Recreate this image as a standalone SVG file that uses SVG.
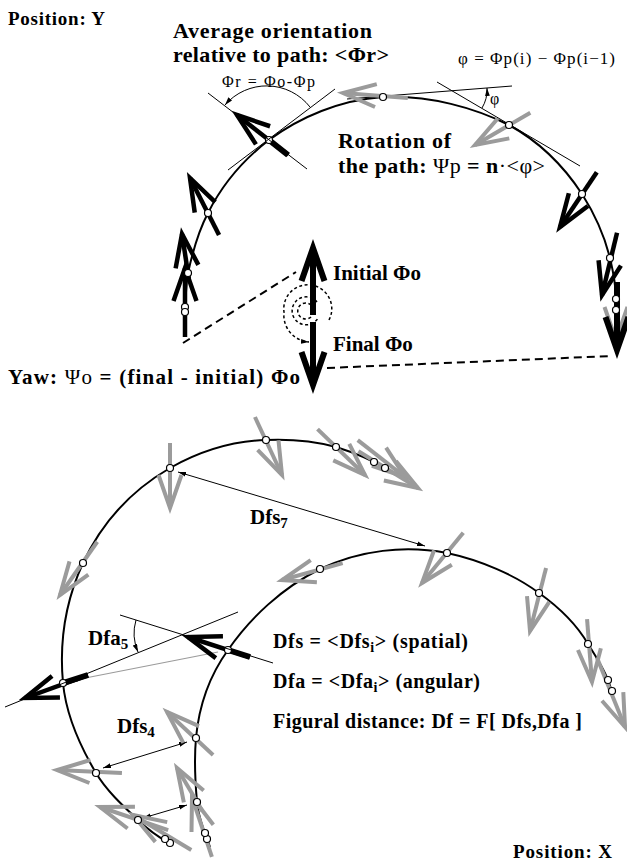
<svg xmlns="http://www.w3.org/2000/svg" width="627" height="861" viewBox="0 0 627 861">
<style>
.blk{stroke:#000;stroke-width:4.5;fill:none;stroke-miterlimit:6}
.big{stroke:#000;stroke-width:6;fill:none;stroke-miterlimit:6}
.gry{stroke:#9b9b9b;stroke-width:4;fill:none;stroke-miterlimit:6}
.thin{stroke:#000;stroke-width:1;fill:none}
.crv{stroke:#000;stroke-width:2;fill:none}
.dash{stroke:#000;stroke-width:2;stroke-dasharray:8 5;fill:none}
.spir{stroke:#000;stroke-width:1.5;stroke-dasharray:3 2.5;fill:none}
.pt{fill:#fff;stroke:#000;stroke-width:1.2}
.b{font-family:"Liberation Serif",serif;font-weight:bold;fill:#000}
.r{font-weight:normal}
</style>
<defs>
<marker id="ah" viewBox="0 0 10 6" refX="10" refY="3" markerWidth="8" markerHeight="5" orient="auto-start-reverse" markerUnits="userSpaceOnUse"><path d="M0,0 L10,3 L0,6 z" fill="#000"/></marker>
<marker id="ahg" viewBox="0 0 10 6" refX="10" refY="3" markerWidth="8" markerHeight="5" orient="auto-start-reverse" markerUnits="userSpaceOnUse"><path d="M0,0 L10,3 L0,6 z" fill="#9b9b9b"/></marker>
<path id="hd" d="M-33,-11.5 L0,0 L-33,11.5"/>
</defs>

<g id="connectors">
<path class="crv" d="M185,314 L185,308 C186,295 186,285 188,273 C193,250 199,230 208,213 C222,185 243,160 269,140 C300,117 340,100 383,97 C430,95 475,108 509,125 C540,142 565,168 582,194 C596,216 605,238 610,258 C614,275 616,290 616,300 L616,312"/>
<path class="crv" d="M172,845 C160,838 148,830 138,820 C122,805 106,790 96,773 C80,746 66,715 63,683 C59,640 66,600 83,563 C103,520 132,490 170,468 C200,451 232,441 266,440 C290,439 314,441 336,447 C352,452 370,459 385,468 L390,471"/>
<path class="crv" d="M210,847 C207,838 198,818 197,802 C195,780 194,760 196,738 C199,705 210,675 228,650 C250,618 282,588 320,569 C360,550 405,545 447,553 C480,560 515,575 539,593 C560,608 577,625 588,644 C597,658 605,672 608,680 L613,694"/>
<line class="thin" x1="347" y1="99" x2="512" y2="86"/>
<line class="thin" x1="437" y1="82" x2="580" y2="166"/>
<path class="thin" d="M482,108 A35,35 0 0,0 487,88" marker-end="url(#ah)"/>
<path class="thin" d="M310,107 A55,55 0 0,0 225,105" marker-end="url(#ah)"/>
<line class="dash" x1="183" y1="343" x2="296" y2="272"/>
<line class="dash" x1="327" y1="368" x2="612" y2="356"/>
<path class="spir" d="M311,305 A8,8 0 1,0 312,316"/>
<path class="spir" d="M317,302 A14,14 0 1,0 317.5,319"/>
<path class="spir" d="M329,320 A24,24 0 1,0 284,312 A27,27 0 0,0 309,342" marker-end="url(#ah)"/>
<line class="thin" x1="178" y1="472" x2="425" y2="546" marker-start="url(#ah)" marker-end="url(#ah)"/>
<line class="thin" x1="103" y1="768" x2="187" y2="742" marker-start="url(#ah)" marker-end="url(#ah)"/>
<line class="thin" x1="143" y1="818" x2="187" y2="805" marker-start="url(#ah)" marker-end="url(#ah)"/>
<line x1="218" y1="652" x2="70" y2="681" stroke="#9b9b9b" stroke-width="1.2" marker-end="url(#ahg)"/>
<path class="thin" d="M136,620 A47,47 0 0,0 138,652" marker-end="url(#ah)"/>
</g>

<g id="grey-arrows">
<g class="gry" transform="translate(343,93) rotate(184.4)"><use href="#hd"/><line x1="-65" y1="0" x2="0" y2="0"/></g>
<g class="gry" transform="translate(475,145) rotate(149.8)"><use href="#hd"/><line x1="-64" y1="0" x2="0" y2="0"/></g>
<g class="gry" transform="translate(616,340) rotate(90)"><use href="#hd"/><line x1="-30" y1="0" x2="0" y2="0"/></g>
<g class="gry" transform="translate(170,508) rotate(90)"><use href="#hd"/><line x1="-65" y1="0" x2="0" y2="0"/></g>
<g class="gry" transform="translate(282,475) rotate(65)"><use href="#hd"/><line x1="-64" y1="0" x2="0" y2="0"/></g>
<g class="gry" transform="translate(365,475) rotate(44)"><use href="#hd"/><line x1="-66" y1="0" x2="0" y2="0"/></g>
<g class="gry" transform="translate(405,477) rotate(38)"><use href="#hd"/><line x1="-60" y1="0" x2="0" y2="0"/></g>
<g class="gry" transform="translate(418,488) rotate(31.6)"><use href="#hd"/><line x1="-70" y1="0" x2="0" y2="0"/></g>
<g class="gry" transform="translate(60,595) rotate(125)"><use href="#hd"/><line x1="-65" y1="0" x2="0" y2="0"/></g>
<g class="gry" transform="translate(57,770) rotate(182.6)"><use href="#hd"/><line x1="-65" y1="0" x2="0" y2="0"/></g>
<g class="gry" transform="translate(100,807) rotate(198.7)"><use href="#hd"/><line x1="-72" y1="0" x2="0" y2="0"/></g>
<g class="gry" transform="translate(133,815) rotate(211)"><use href="#hd"/><line x1="-68" y1="0" x2="0" y2="0"/></g>
<g class="gry" transform="translate(167,712) rotate(-137)"><use href="#hd"/><line x1="-63" y1="0" x2="0" y2="0"/></g>
<g class="gry" transform="translate(177,768) rotate(-120.5)"><use href="#hd"/><line x1="-50" y1="0" x2="0" y2="0"/></g>
<g class="gry" transform="translate(192,797) rotate(-108.4)"><use href="#hd"/><line x1="-63" y1="0" x2="0" y2="0"/></g>
<g class="gry" transform="translate(282,580) rotate(164.4)"><use href="#hd"/><line x1="-63" y1="0" x2="0" y2="0"/></g>
<g class="gry" transform="translate(422,583) rotate(129.4)"><use href="#hd"/><line x1="-65" y1="0" x2="0" y2="0"/></g>
<g class="gry" transform="translate(530,631) rotate(104.3)"><use href="#hd"/><line x1="-65" y1="0" x2="0" y2="0"/></g>
<g class="gry" transform="translate(592,682) rotate(85.5)"><use href="#hd"/><line x1="-63" y1="0" x2="0" y2="0"/></g>
<g class="gry" transform="translate(625,727) rotate(68)"><use href="#hd"/><line x1="-75" y1="0" x2="0" y2="0"/></g>
</g>

<g id="black-arrows">
<g class="blk" transform="translate(185,268) rotate(-90)"><use href="#hd"/><line x1="-69" y1="0" x2="0" y2="0"/></g>
<g class="blk" transform="translate(182,234) rotate(-98.7)"><use href="#hd"/><line x1="-45" y1="0" x2="0" y2="0"/></g>
<g class="blk" transform="translate(190,178) rotate(-117)"><use href="#hd"/><line x1="-64" y1="0" x2="0" y2="0"/></g>
<g class="blk" transform="translate(237,115) rotate(-142)"><use href="#hd"/><line x1="-65" y1="0" x2="0" y2="0"/></g>
<line x1="269" y1="140" x2="288" y2="155" stroke="#000" stroke-width="6"/>
<g class="blk" transform="translate(560,227) rotate(123.9)"><use href="#hd"/><line x1="-66" y1="0" x2="0" y2="0"/></g>
<g class="blk" transform="translate(602,295) rotate(103.6)"><use href="#hd"/><line x1="-64" y1="0" x2="0" y2="0"/></g>
<g class="big" transform="translate(617,350) rotate(90)"><use href="#hd"/><line x1="-68" y1="0" x2="0" y2="0"/></g>
<g id="initial" class="big" transform="translate(313,248) rotate(-90)"><use href="#hd"/><line x1="-67" y1="0" x2="0" y2="0"/></g>
<g id="final" class="big" transform="translate(313,385) rotate(90)"><use href="#hd"/><line x1="-63" y1="0" x2="0" y2="0"/></g>
<g class="blk" transform="translate(25,698) rotate(160)"><use href="#hd"/><line x1="-67" y1="0" x2="0" y2="0"/></g>
<line x1="63" y1="683" x2="88" y2="675" stroke="#000" stroke-width="6"/>
<g class="blk" transform="translate(188,637) rotate(198)"><use href="#hd"/><line x1="-65" y1="0" x2="0" y2="0"/></g>
<line x1="228" y1="650" x2="250" y2="657" stroke="#000" stroke-width="6"/>
</g>

<g id="points">
<circle class="pt" cx="185" cy="307" r="3.5"/><circle class="pt" cx="185" cy="312" r="3.5"/>
<circle class="pt" cx="188" cy="273" r="3.5"/><circle class="pt" cx="208" cy="213" r="3.5"/>
<circle class="pt" cx="269" cy="140" r="3.5"/><circle class="pt" cx="383" cy="97" r="3.5"/>
<circle class="pt" cx="509" cy="125" r="3.5"/><circle class="pt" cx="582" cy="194" r="3.5"/>
<circle class="pt" cx="610" cy="258" r="3.5"/><circle class="pt" cx="616" cy="299" r="3.5"/>
<circle class="pt" cx="616" cy="310" r="3.5"/>
<circle class="pt" cx="170" cy="843" r="3.5"/><circle class="pt" cx="165" cy="839" r="3.5"/>
<circle class="pt" cx="138" cy="820" r="3.5"/><circle class="pt" cx="96" cy="773" r="3.5"/>
<circle class="pt" cx="63" cy="683" r="3.5"/><circle class="pt" cx="83" cy="563" r="3.5"/>
<circle class="pt" cx="170" cy="468" r="3.5"/><circle class="pt" cx="266" cy="440" r="3.5"/>
<circle class="pt" cx="336" cy="447" r="3.5"/><circle class="pt" cx="374" cy="462" r="3.5"/>
<circle class="pt" cx="385" cy="468" r="3.5"/>
<circle class="pt" cx="207" cy="839" r="3.5"/><circle class="pt" cx="205" cy="833" r="3.5"/>
<circle class="pt" cx="197" cy="802" r="3.5"/><circle class="pt" cx="196" cy="738" r="3.5"/>
<circle class="pt" cx="228" cy="650" r="3.5"/><circle class="pt" cx="320" cy="569" r="3.5"/>
<circle class="pt" cx="447" cy="553" r="3.5"/><circle class="pt" cx="539" cy="593" r="3.5"/>
<circle class="pt" cx="588" cy="644" r="3.5"/><circle class="pt" cx="608" cy="680" r="3.5"/>
<circle class="pt" cx="612" cy="691" r="3.5"/>
</g>

<g id="orientation-lines">
<line class="thin" x1="208" y1="93" x2="307" y2="169"/>
<line class="thin" x1="228" y1="170" x2="335" y2="89"/>
<line class="thin" x1="5" y1="707" x2="238" y2="612"/>
<line class="thin" x1="120" y1="615" x2="273" y2="663"/>
</g>

<g id="labels">
<text class="b" x="8" y="25" font-size="19" textLength="97">Position: Y</text>
<text class="b" x="173" y="38" font-size="22" textLength="199">Average orientation</text>
<text class="b" x="173" y="62" font-size="22" textLength="216">relative to path: &lt;Φr&gt;</text>
<text class="b r" x="222" y="87" font-size="16" textLength="93">Φr = Φo-Φp</text>
<text class="b r" x="458" y="64" font-size="17" textLength="157">φ = Φp(i) − Φp(i−1)</text>
<text class="b r" x="490" y="104" font-size="16">φ</text>
<text class="b" x="338" y="148" font-size="22" textLength="113">Rotation of</text>
<text class="b" x="338" y="173" font-size="22" textLength="207">the path: <tspan class="r">Ψp</tspan> = n<tspan class="r">·&lt;φ&gt;</tspan></text>
<text class="b" x="333" y="280" font-size="21">Initial Φo</text>
<text class="b" x="333" y="351" font-size="21">Final Φo</text>
<text class="b" x="8" y="384" font-size="21" textLength="292">Yaw: <tspan class="r">Ψo</tspan> = (final - initial) Φo</text>
<text class="b" x="250" y="524" font-size="21">Dfs<tspan font-size="15" dy="4">7</tspan></text>
<text class="b" x="88" y="645" font-size="21">Dfa<tspan font-size="15" dy="4">5</tspan></text>
<text class="b" x="117" y="733" font-size="21">Dfs<tspan font-size="15" dy="4">4</tspan></text>
<text class="b" x="273" y="648" font-size="20" textLength="195">Dfs = &lt;Dfs<tspan font-size="14" dy="4">i</tspan><tspan dy="-4">&gt; (spatial)</tspan></text>
<text class="b" x="273" y="688" font-size="20" textLength="207">Dfa = &lt;Dfa<tspan font-size="14" dy="4">i</tspan><tspan dy="-4">&gt; (angular)</tspan></text>
<text class="b" x="273" y="728" font-size="20" textLength="309">Figural distance: Df = F[ Dfs,Dfa ]</text>
<text class="b" x="513" y="858" font-size="19" textLength="99">Position: X</text>
</g>
</svg>
